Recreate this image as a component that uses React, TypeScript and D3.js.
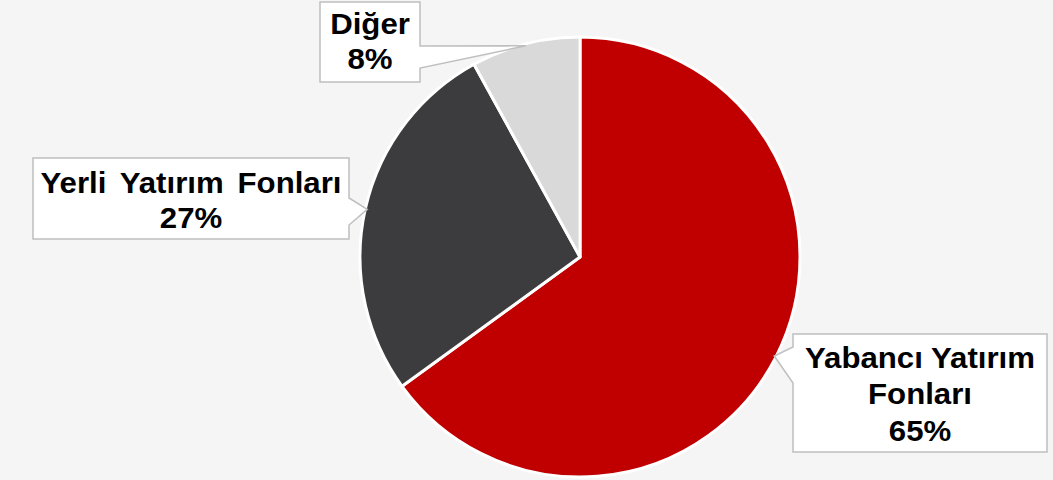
import React from "react";
import * as d3 from "d3";

const categories = ["Yabancı Yatırım Fonları", "Yerli Yatırım Fonları", "Diğer"];
const values = [65, 27, 8];
const labelLines = [["Yabancı Yatırım", "Fonları", "65%"], ["Yerli Yatırım Fonları", "27%"], ["Diğer", "8%"]];
const colors = ["#C00000", "#3C3B3D", "#D9D9D9"];

const W = 1053, H = 480;
const cx = 580, cy = 257, R = 220;

const boxes = [
  { x: 793, y: 334, w: 254, h: 118, side: "left", t1: 347, t2: 383, base: [368, 404, 441], ws: 0 },
  { x: 33, y: 158, w: 316, h: 81, side: "right", t1: 198, t2: 225, base: [193, 228], ws: 5 },
  { x: 320, y: 2, w: 100, h: 80, side: "right", t1: 46, t2: 68, base: [34, 69], ws: 0 },
];

export default function App() {
  const pie = d3.pie<number>().sort(null).value((d) => d)(values);
  const arc = d3.arc<d3.PieArcDatum<number>>().innerRadius(0).outerRadius(R);

  return (
    <svg width={W} height={H} style={{ position: "absolute", left: 0, top: 0, background: "#F5F5F5" }}>
      <rect x={0} y={0} width={W} height={H} fill="#F5F5F5" />
      <g transform={`translate(${cx},${cy})`}>
        {pie.map((p, i) => (
          <path key={categories[i]} d={arc(p) || ""} fill={colors[i]} stroke="#FFFFFF" strokeWidth={3} strokeLinejoin="round" />
        ))}
      </g>
      {pie.map((p, i) => {
        const b = boxes[i];
        const mid = (p.startAngle + p.endAngle) / 2;
        const tx = cx + (R - 2) * Math.sin(mid);
        const ty = cy - (R - 2) * Math.cos(mid);
        const x0 = b.x, x1 = b.x + b.w, y0 = b.y, y1 = b.y + b.h;
        let d: string;
        if (b.side === "left") {
          d = `M${x0},${y0} L${x1},${y0} L${x1},${y1} L${x0},${y1} L${x0},${b.t2} L${tx},${ty} L${x0},${b.t1} Z`;
        } else {
          d = `M${x0},${y0} L${x1},${y0} L${x1},${b.t1} L${tx},${ty} L${x1},${b.t2} L${x1},${y1} L${x0},${y1} Z`;
        }
        const mx = b.x + b.w / 2;
        return (
          <g key={"lbl" + i}>
            <path d={d} fill="#FFFFFF" stroke="#BFBFBF" strokeWidth={1.5} strokeLinejoin="miter" />
            {labelLines[i].map((ln, j) => (
              <text
                key={j}
                x={0}
                y={0}
                transform={`translate(${mx},${b.base[j]}) scale(1.04,1)`}
                textAnchor="middle"
                fontFamily="'Liberation Sans', Arial, sans-serif"
                fontWeight="bold"
                fontSize={30}
                wordSpacing={b.ws}
                fill="#000000"
              >
                {ln}
              </text>
            ))}
          </g>
        );
      })}
    </svg>
  );
}
